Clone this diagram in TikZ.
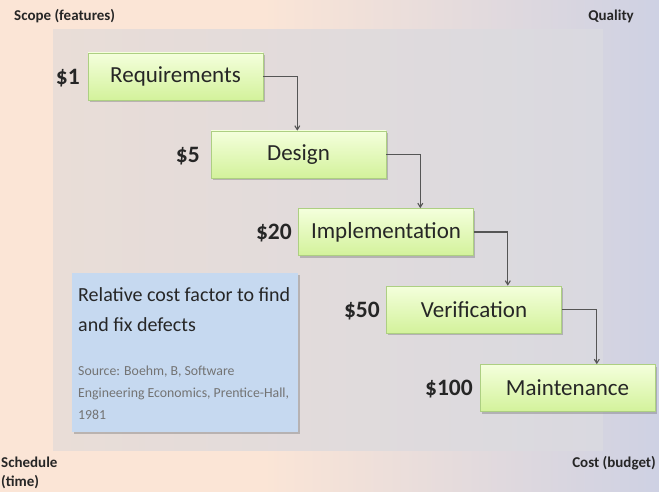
\documentclass[tikz,border=0pt]{standalone}
\usepackage{fontspec}
\setmainfont{Carlito}
\usetikzlibrary{shadows,arrows.meta}

\definecolor{peach}{HTML}{FBE5D6}
\definecolor{lavender}{HTML}{CED1E3}
\definecolor{panelL}{HTML}{E9DDD7}
\definecolor{panelR}{HTML}{D9D9E0}
\definecolor{phaseTop}{HTML}{F4FFDC}
\definecolor{phaseBot}{HTML}{D3F29B}
\definecolor{phaseEdge}{HTML}{ADCF82}
\definecolor{noteBlue}{HTML}{C6D9F0}
\definecolor{flowGrey}{HTML}{555555}

% tikz maps the path onto 25bp..75bp of the shading
\pgfdeclarehorizontalshading{backdrop}{100bp}{color(0bp)=(peach); color(45bp)=(peach);
  color(75bp)=(lavender); color(100bp)=(lavender)}

\begin{document}
\begin{tikzpicture}[x=1pt,y=-1pt,
    phase/.style={draw=phaseEdge,line width=0.6pt,top color=phaseTop,bottom color=phaseBot,
      minimum width=175pt,minimum height=47pt,inner sep=0pt,text=black!85,
      font=\fontsize{23}{28}\selectfont,
      drop shadow={shadow xshift=1.5pt,shadow yshift=-2pt,opacity=0.35,fill=black!60}},
    cost/.style={anchor=east,inner sep=0pt,text=black!85,font=\fontsize{23.5}{28}\selectfont\bfseries},
    corner/.style={inner sep=0pt,text=black!85,font=\fontsize{15}{19}\selectfont\bfseries},
    flow/.style={draw=flowGrey,line width=1.1pt,-{Straight Barb[length=4pt,width=5pt]}},
    note/.style={fill=noteBlue,minimum width=226pt,minimum height=159pt,inner sep=0pt,
      drop shadow={shadow xshift=2pt,shadow yshift=-2pt,opacity=0.35,fill=black!60}}]

  % background and inner panel
  \shade[shading=backdrop] (0,0) rectangle (659,492);
  \shade[left color=panelL,right color=panelR] (53,30) rectangle (603,450);
  \useasboundingbox (0,0) rectangle (659,492);

  % corner labels
  \node[corner,anchor=base west] (scope) at (14,21) {Scope (features)};
  \node[corner,anchor=base east] (quality) at (634,21) {Quality};
  \node[corner,anchor=base west,align=left] (sched) at (1,486) {Schedule\\(time)};
  \node[corner,anchor=base east] (budget) at (656,467) {Cost (budget)};

  % phases
  \node[phase] (req) at (175.5,76.5) {Requirements};
  \node[phase] (design) at (298.5,154.5) {Design};
  \node[phase] (impl) at (386,232) {Implementation};
  \node[phase] (verif) at (474,309.5) {Verification};
  \node[phase] (maint) at (567.5,388) {Maintenance};

  \node[cost] (c1) at (80,78) {\$1};
  \node[cost] (c5) at (200,156) {\$5};
  \node[cost] (c20) at (292,233) {\$20};
  \node[cost] (c50) at (380,311) {\$50};
  \node[cost] (c100) at (473,389) {\$100};

  % hand-over arrows
  \path (req.east) ++(34,0) coordinate (k1);
  \path (design.east) ++(34,0) coordinate (k2);
  \path (impl.east) ++(34,0) coordinate (k3);
  \path (verif.east) ++(35,0) coordinate (k4);
  \draw[flow] (req.east) -- (k1) -- (k1 |- design.north);
  \draw[flow] (design.east) -- (k2) -- (k2 |- impl.north);
  \draw[flow] (impl.east) -- (k3) -- (k3 |- verif.north);
  \draw[flow] (verif.east) -- (k4) -- (k4 |- maint.north);

  % note box
  \node[note] (note) at (185,352.5) {};
  \node[anchor=north west,align=left,inner sep=0pt,text=black!85,
    font=\fontsize{20}{30}\selectfont] (title) at (78,287)
    {Relative cost factor to find\\and fix defects};
  \node[anchor=north west,align=left,inner sep=0pt,text=black!55,
    font=\fontsize{13.8}{22}\selectfont] (src) at (78,366)
    {Source: Boehm, B, Software\\Engineering Economics, Prentice-Hall,\\1981};
\end{tikzpicture}
\end{document}
